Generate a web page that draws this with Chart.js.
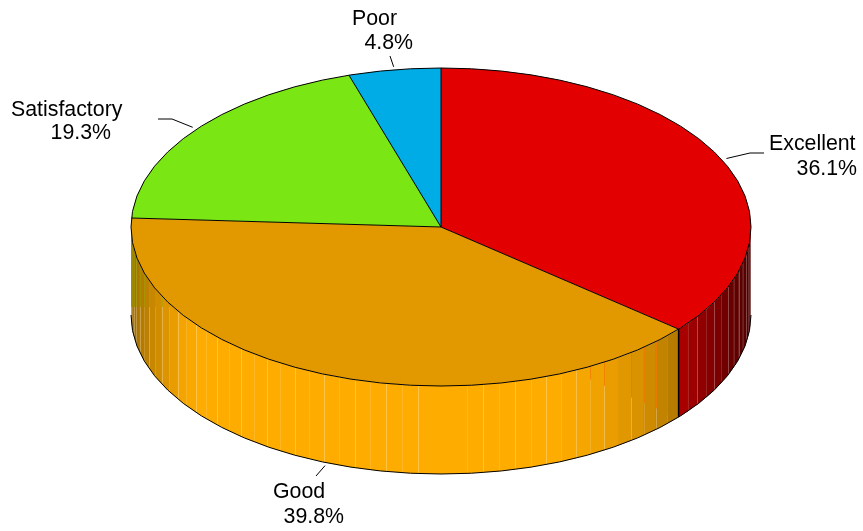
<!DOCTYPE html>
<html>
<head>
<meta charset="utf-8">
<title>Ratings</title>
<script src="https://cdn.jsdelivr.net/npm/chart.js@4/dist/chart.umd.min.js"></script>
<style>
html, body { margin: 0; padding: 0; background: #fff; }
canvas { display: block; }
</style>
</head>
<body>
<canvas id="myChart" width="863" height="531"></canvas>
<script>
// data
const categories = ["Excellent", "Good", "Satisfactory", "Poor"];
const shares = [36.1, 39.8, 19.3, 4.8];

// colours
const topColors = ["#E30000", "#E29900", "#7AE614", "#00ACE6"];
const wallColors = [[255, 0, 0], [255, 172, 0], [137, 255, 22], [0, 191, 255]];

// layout of the fake 3d disc
const RADIUS = 310;
const SQUASH = 159 / 310;
const DEPTH = 88;
const STRIP = 3 * Math.PI / 180;
const FONT = "21.33px 'Liberation Sans', Arial, sans-serif";

// text position of each label, same order as categories
const labelPlace = [
	{name: [769, 150], pct: [857, 175], elbow: [[750, 153], [764, 153]]},
	{name: [273, 498], pct: [344, 523], elbow: [[316, 476]]},
	{name: [11, 116], pct: [111, 139], elbow: [[172, 119], [158, 119]]},
	{name: [352, 25], pct: [413, 49], elbow: [[390, 56]]}
];

// how bright the side wall is, by horizontal position on the disc (-1 left, 1 right)
const lightX = [-1, -0.94, -0.84, -0.78, 0.38, 0.51, 0.64, 0.76, 0.84, 0.93, 1];
const lightV = [0.62, 0.77, 0.95, 1, 1, 0.94, 0.85, 0.70, 0.57, 0.42, 0.30];
// joins that do not show in the wall
const noSeam = [1, 2, -10];

function light(s) {
	for (let i = 1; i < lightX.length; i++) {
		if (s <= lightX[i]) {
			let t = (s - lightX[i - 1]) / (lightX[i] - lightX[i - 1]);
			return lightV[i - 1] + t * (lightV[i] - lightV[i - 1]);
		}
	}
	return lightV[lightV.length - 1];
}

function drawSeam(ctx, x, y0, y1, k) {
	let pale = k % 2 ? "rgba(255,255,255,0.28)" : "rgba(255,255,255,0.14)";
	let split = null, tint = null;
	if (x > 590 && x < 676) {
		split = 380 + (x - 591) * 0.44;
		tint = "rgba(240,120,0,0.75)";
	} else if (x < 175) {
		split = 307;
		tint = "rgba(150,170,0,0.45)";
	}
	x = Math.round(x) + 0.5;
	ctx.lineWidth = 1;
	if (split && split > y0) {
		ctx.strokeStyle = tint;
		ctx.beginPath();
		ctx.moveTo(x, y0);
		ctx.lineTo(x, Math.min(split, y1));
		ctx.stroke();
		y0 = split;
	}
	if (y0 < y1) {
		ctx.strokeStyle = pale;
		ctx.beginPath();
		ctx.moveTo(x, y0);
		ctx.lineTo(x, y1);
		ctx.stroke();
	}
}

const disc3d = {
	id: "disc3d",
	beforeDatasetsDraw(chart) {
		const ctx = chart.ctx;
		const arcs = chart.getDatasetMeta(0).data;
		const cx = arcs[0].x, cy = arcs[0].y;
		const ry = RADIUS * SQUASH;
		const first = Math.PI / 2 - 4.8 * Math.PI / 180;
		ctx.save();
		// side wall, only the front half can be seen
		arcs.forEach(function (arc, i) {
			let a1 = Math.max(arc.startAngle, 0);
			let a2 = Math.min(arc.endAngle, Math.PI);
			if (a2 <= a1) return;
			let k = Math.floor((a1 - first) / STRIP);
			for (; first + k * STRIP < a2; k++) {
				let s = Math.max(first + k * STRIP, a1);
				let e = Math.min(first + (k + 1) * STRIP, a2);
				let f = light(Math.cos((s + e) / 2));
				let c = wallColors[i];
				ctx.fillStyle = "rgb(" + c[0] * f + "," + c[1] * f + "," + c[2] * f + ")";
				ctx.beginPath();
				ctx.ellipse(cx, cy, RADIUS, ry, 0, s, Math.min(e + 0.004, a2));
				ctx.ellipse(cx, cy + DEPTH, RADIUS, ry, 0, Math.min(e + 0.004, a2), s, true);
				ctx.closePath();
				ctx.fill();
			}
		});
		// light joins between the strips
		arcs.forEach(function (arc) {
			let a1 = Math.max(arc.startAngle, 0);
			let a2 = Math.min(arc.endAngle, Math.PI);
			if (a2 <= a1) return;
			let k = Math.ceil((a1 - first) / STRIP);
			for (; first + k * STRIP < a2; k++) {
				if (noSeam.includes(k)) continue;
				let a = first + k * STRIP;
				let x = cx + RADIUS * Math.cos(a);
				let y = cy + ry * Math.sin(a);
				drawSeam(ctx, x, y, y + DEPTH, k);
			}
		});
		ctx.restore();
		// the library draws the slices through this squash
		ctx.save();
		ctx.translate(cx, cy);
		ctx.scale(1, SQUASH);
		ctx.translate(-cx, -cy);
	},
	afterDatasetsDraw(chart) {
		const ctx = chart.ctx;
		ctx.restore();
		const arcs = chart.getDatasetMeta(0).data;
		const cx = arcs[0].x, cy = arcs[0].y;
		const ry = RADIUS * SQUASH;
		ctx.save();
		ctx.strokeStyle = "#000";
		ctx.lineWidth = 1;
		// wall outlines
		ctx.beginPath();
		ctx.ellipse(cx, cy + DEPTH, RADIUS, ry, 0, 0, Math.PI);
		ctx.stroke();
		// top face outlines
		ctx.beginPath();
		ctx.ellipse(cx, cy, RADIUS, ry, 0, 0, Math.PI * 2);
		ctx.stroke();
		arcs.forEach(function (arc) {
			let x = cx + RADIUS * Math.cos(arc.startAngle);
			let y = cy + ry * Math.sin(arc.startAngle);
			ctx.beginPath();
			ctx.moveTo(cx, cy);
			ctx.lineTo(x, y);
			ctx.stroke();
			if (arc.startAngle > 0 && arc.startAngle < Math.PI) {
				ctx.lineWidth = 1.5;
				ctx.beginPath();
				ctx.moveTo(x, y);
				ctx.lineTo(x, y + DEPTH);
				ctx.stroke();
				ctx.lineWidth = 1;
			}
		});
		// leaders and labels, the leader starts a little off the edge
		ctx.font = FONT;
		ctx.fillStyle = "#000";
		ctx.textBaseline = "alphabetic";
		arcs.forEach(function (arc, i) {
			let mid = (arc.startAngle + arc.endAngle) / 2;
			let y = cy + (ry + 3) * Math.sin(mid);
			if (mid > 0 && mid < Math.PI) y += DEPTH;
			let place = labelPlace[i];
			ctx.beginPath();
			ctx.moveTo(cx + (RADIUS + 5) * Math.cos(mid), y);
			place.elbow.forEach(function (p) { ctx.lineTo(p[0], p[1]); });
			ctx.stroke();
			ctx.textAlign = "left";
			ctx.fillText(categories[i], place.name[0], place.name[1]);
			ctx.textAlign = "right";
			ctx.fillText(shares[i].toFixed(1) + "%", place.pct[0], place.pct[1]);
		});
		ctx.restore();
	}
};

new Chart("myChart", {
	type: "pie",
	data: {
		labels: categories,
		datasets: [
			{
				data: shares,
				backgroundColor: topColors,
				borderWidth: 0,
				clip: false,
			},
		],
	},
	options: {
		responsive: false,
		animation: false,
		radius: RADIUS,
		layout: { padding: { left: 19, bottom: 77 } },
		events: [],
		plugins: {
			legend: { display: false },
			tooltip: { enabled: false },
			title: { display: false },
		},
	},
	plugins: [disc3d],
});
</script>
</body>
</html>
